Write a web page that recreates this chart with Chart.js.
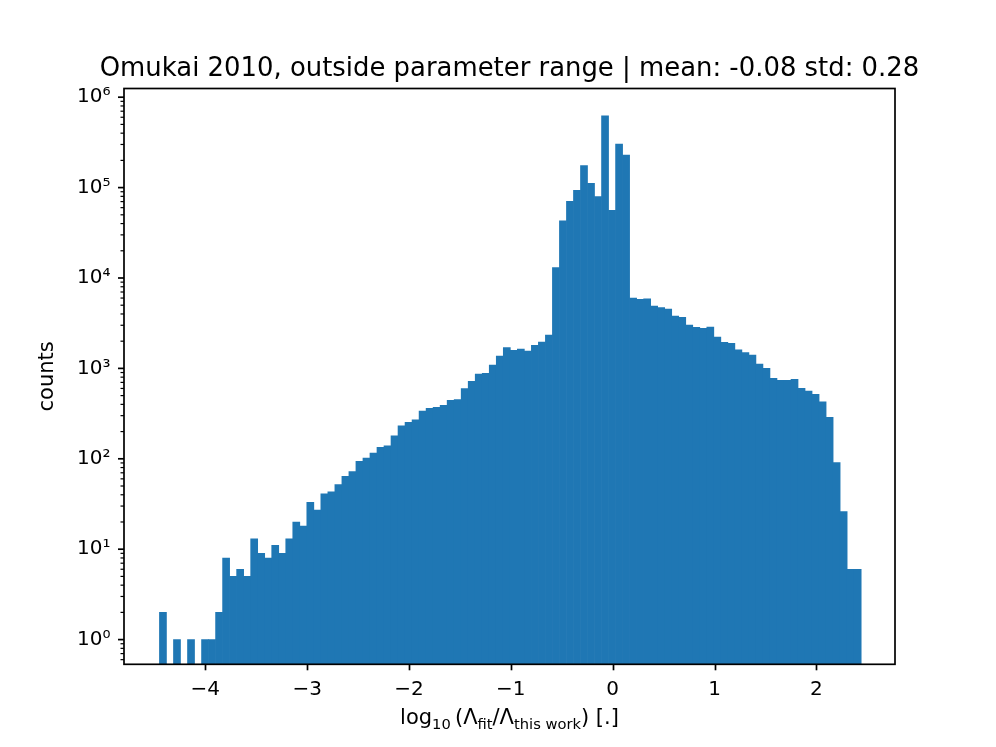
<!DOCTYPE html>
<html>
<head>
<meta charset="utf-8">
<script src="https://cdn.jsdelivr.net/npm/chart.js@4.4.1/dist/chart.umd.min.js"></script>
<style>
  html, body { margin: 0; padding: 0; background: #fff; }
  #wrap { width: 996px; height: 747px; }
</style>
</head>
<body>
<div id="wrap"><canvas id="histChart" width="996" height="747"></canvas></div>
<script>
const TITLE = "Omukai 2010, outside parameter range | mean: -0.08 std: 0.28";
const Y_LABEL = "counts";
// x label pieces: [text, isSubscript]
const X_LABEL_PARTS = [["log", false], ["10", true], ["\u2009(\u039B", false], ["fit", true],
  ["/\u039B", false], ["this work", true], [") [.]", false]];

// histogram bins (100 equal bins)
const BIN_START = -4.45;
const BIN_WIDTH = 0.0689;
const COUNTS = [
  2, 0, 1, 0, 1, 0, 1, 1, 2, 8,
  5, 6, 5, 13, 9, 8, 11, 9, 13, 20,
  18, 33, 27, 41, 43, 52, 64, 72, 94, 102,
  116, 134, 139, 180, 232, 253, 269, 338, 362, 371,
  391, 444, 451, 597, 720, 867, 883, 1091, 1372, 1700,
  1585, 1640, 1557, 1800, 1960, 2339, 13000, 43000, 70500, 93300,
  174700, 111500, 79300, 624000, 56100, 303000, 229500, 5990, 5810, 5900,
  4900, 4700, 4540, 3800, 3670, 3020, 2850, 2780, 2870, 2225,
  1942, 1893, 1600, 1500, 1400, 1119, 1003, 777, 738, 738,
  757, 603, 562, 517, 428, 288, 91, 26, 6, 6
];

const X_TICKS = [-4, -3, -2, -1, 0, 1, 2];
const Y_DECADES = [0, 1, 2, 3, 4, 5, 6];
const SUPERSCRIPTS = ["\u2070", "\u00B9", "\u00B2", "\u00B3", "\u2074", "\u2075", "\u2076"];

const X_MIN = -4.798, X_MAX = 2.772;
const Y_MIN = 0.533, Y_MAX = 1.248e6;

const FONT = "'DejaVu Sans', sans-serif";
const TICK_FONT_SIZE = 20;
const LABEL_FONT_SIZE = 21;
const TITLE_FONT_SIZE = 25.9;
const BAR_COLOR = "#1f77b4";

function isDecade(v) {
  const l = Math.log10(v);
  return Math.abs(l - Math.round(l)) < 1e-9;
}

function yTickValues() {
  const vals = [];
  for (let e = -1; e <= 6; e++) {
    for (let m = 1; m <= 9; m++) {
      const v = m * Math.pow(10, e);
      if (v >= Y_MIN && v <= Y_MAX) vals.push(v);
    }
  }
  return vals;
}

const axesDecor = {
  id: "axesDecor",
  afterDraw(chart) {
    const { ctx, chartArea: a, scales } = chart;
    ctx.save();
    ctx.strokeStyle = "#000";
    ctx.lineCap = "butt";

    ctx.lineWidth = 1.7;
    for (const v of X_TICKS) {
      const px = Math.round(scales.x.getPixelForValue(v)) + 0.5;
      ctx.beginPath();
      ctx.moveTo(px, a.bottom);
      ctx.lineTo(px, a.bottom + 6);
      ctx.stroke();
    }
    for (const t of scales.y.ticks) {
      const major = isDecade(t.value);
      const py = scales.y.getPixelForValue(t.value);
      ctx.lineWidth = major ? 1.7 : 1.2;
      ctx.beginPath();
      ctx.moveTo(a.left - (major ? 6 : 3.5), py);
      ctx.lineTo(a.left, py);
      ctx.stroke();
    }

    ctx.lineWidth = 1.7;
    ctx.strokeRect(a.left, a.top, a.right - a.left, a.bottom - a.top);

    const cx = (a.left + a.right) / 2;
    ctx.fillStyle = "#000";

    // title
    ctx.font = `${TITLE_FONT_SIZE}px ${FONT}`;
    ctx.textAlign = "center";
    ctx.textBaseline = "alphabetic";
    ctx.fillText(TITLE, cx, a.top - 13);

    // x label with subscripts
    const subSize = LABEL_FONT_SIZE * 0.7;
    let total = 0;
    for (const [txt, sub] of X_LABEL_PARTS) {
      ctx.font = `${sub ? subSize : LABEL_FONT_SIZE}px ${FONT}`;
      total += ctx.measureText(txt).width;
    }
    let x = cx - total / 2;
    const base = 724;
    ctx.textAlign = "left";
    for (const [txt, sub] of X_LABEL_PARTS) {
      ctx.font = `${sub ? subSize : LABEL_FONT_SIZE}px ${FONT}`;
      ctx.fillText(txt, x, sub ? base + LABEL_FONT_SIZE * 0.22 : base);
      x += ctx.measureText(txt).width;
    }

    // y label
    ctx.save();
    ctx.translate(48, (a.top + a.bottom) / 2);
    ctx.rotate(-Math.PI / 2);
    ctx.font = `${LABEL_FONT_SIZE}px ${FONT}`;
    ctx.textAlign = "center";
    ctx.textBaseline = "middle";
    ctx.fillText(Y_LABEL, 0, 0);
    ctx.restore();

    ctx.restore();
  }
};

const points = COUNTS.map((c, i) => ({
  x: BIN_START + (i + 0.5) * BIN_WIDTH,
  y: c > 0 ? c : null
}));

new Chart(document.getElementById("histChart"), {
  type: "bar",
  data: {
    datasets: [{
      data: points,
      backgroundColor: BAR_COLOR,
      borderWidth: 0,
      barPercentage: 1,
      categoryPercentage: 1,
      grouped: false
    }]
  },
  options: {
    responsive: false,
    animation: false,
    devicePixelRatio: 1,
    layout: { padding: { left: 0, right: 101, top: 88.5, bottom: 0 } },
    plugins: {
      legend: { display: false },
      title: { display: false },
      tooltip: { enabled: false }
    },
    scales: {
      x: {
        type: "linear",
        offset: false,
        min: X_MIN,
        max: X_MAX,
        grid: { display: false, drawTicks: false, offset: false },
        border: { display: false },
        afterBuildTicks(scale) {
          scale.ticks = X_TICKS.map((v) => ({ value: v }));
        },
        afterFit(scale) { scale.height = 747 - 664.3; },
        ticks: {
          autoSkip: false,
          maxRotation: 0,
          padding: 13.6,
          color: "#000",
          font: { family: FONT, size: TICK_FONT_SIZE },
          callback: (v) => (v < 0 ? "\u2212" + Math.abs(v) : String(v))
        }
      },
      y: {
        type: "logarithmic",
        min: Y_MIN,
        max: Y_MAX,
        grid: { display: false, drawTicks: false },
        border: { display: false },
        afterBuildTicks(scale) {
          scale.ticks = yTickValues().map((v) => ({ value: v, major: isDecade(v) }));
        },
        afterFit(scale) { scale.width = 124; },
        ticks: {
          autoSkip: false,
          padding: 13.6,
          color: "#000",
          font: { family: FONT, size: TICK_FONT_SIZE },
          callback: (v) => {
            if (!isDecade(v)) return "";
            const e = Math.round(Math.log10(v));
            return "10" + SUPERSCRIPTS[Y_DECADES.indexOf(e)];
          }
        }
      }
    }
  },
  plugins: [axesDecor]
});
</script>
</body>
</html>
